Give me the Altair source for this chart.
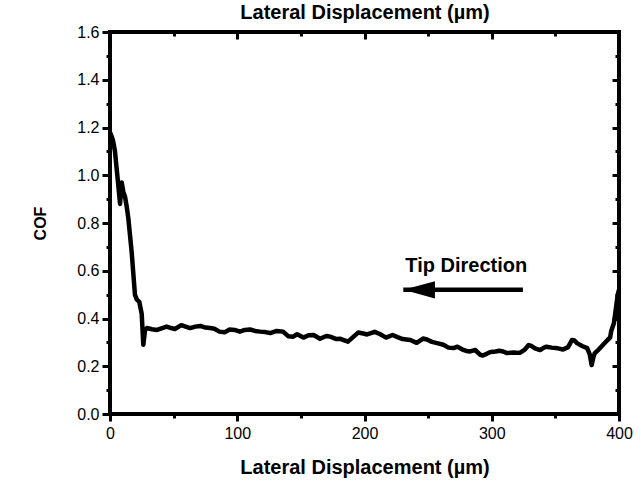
import altair as alt
import pandas as pd

# ---- data ----
disp = [0, 1.5, 2.6, 3.9, 5, 6.3, 7.9, 9.2, 10.5, 11.8, 13.1, 14.4, 17, 19.6, 21, 23,
        24.9, 26.2, 27.5, 29, 33, 37, 41, 44.5, 48, 51, 56, 60, 63, 67, 71, 75, 78.6,
        82, 86, 90, 94, 98, 102, 106, 110, 114, 118, 122, 126, 131, 136, 140, 144,
        147, 152, 156, 160, 165, 170, 173, 178, 181, 187, 191, 195, 200, 202, 208,
        212, 217, 222, 226, 230, 236, 241, 246, 249, 253, 257, 262, 266, 270, 273,
        277, 280, 283, 287, 291, 293, 296, 299, 303, 306, 309, 312, 317, 322, 326,
        329, 331, 334, 338, 341, 343, 347, 352, 356, 360, 363, 365, 367, 371, 375,
        377, 378.5, 380, 381, 384, 387.5, 391, 393, 394, 396, 397, 398, 399, 400]
cof = [1.18, 1.16, 1.14, 1.10, 1.04, 0.97, 0.88, 0.97, 0.93, 0.91, 0.87, 0.82, 0.68,
       0.50, 0.48, 0.47, 0.42, 0.29, 0.35, 0.36, 0.355, 0.352, 0.36, 0.366, 0.36,
       0.356, 0.372, 0.365, 0.36, 0.366, 0.369, 0.362, 0.36, 0.357, 0.345, 0.342,
       0.354, 0.352, 0.345, 0.352, 0.354, 0.348, 0.345, 0.343, 0.339, 0.348, 0.345,
       0.326, 0.324, 0.334, 0.32, 0.33, 0.331, 0.315, 0.327, 0.324, 0.314, 0.315,
       0.303, 0.322, 0.341, 0.336, 0.333, 0.344, 0.335, 0.32, 0.331, 0.322, 0.314,
       0.31, 0.298, 0.316, 0.312, 0.302, 0.297, 0.29, 0.278, 0.276, 0.282, 0.27,
       0.264, 0.262, 0.268, 0.248, 0.245, 0.252, 0.26, 0.262, 0.265, 0.262, 0.255,
       0.258, 0.256, 0.27, 0.289, 0.285, 0.275, 0.268, 0.278, 0.282, 0.278, 0.275,
       0.27, 0.28, 0.31, 0.308, 0.297, 0.285, 0.276, 0.25, 0.205, 0.24, 0.255, 0.27,
       0.29, 0.31, 0.32, 0.35, 0.38, 0.42, 0.46, 0.50, 0.52]

x_major = [0, 100, 200, 300, 400]
x_minor = [50, 150, 250, 350]
y_major = [0.0, 0.2, 0.4, 0.6, 0.8, 1.0, 1.2, 1.4, 1.6]
y_minor = [0.1, 0.3, 0.5, 0.7, 0.9, 1.1, 1.3, 1.5]

arrow_start = [324.5]
arrow_end = [230.5]
arrow_y = [0.52]
label_text = ["Tip Direction"]
label_x = [280]
label_y = [0.595]

x_title = "Lateral Displacement (µm)"
y_title = "COF"

FONT = "Liberation Sans"

df = pd.DataFrame({"x": disp, "y": cof})
arrow_df = pd.DataFrame({"xs": arrow_start, "xe": arrow_end, "y": arrow_y})
text_df = pd.DataFrame({"x": label_x, "y": label_y, "t": label_text})

xs = alt.Scale(domain=[0, 400], nice=False, zero=False)
ys = alt.Scale(domain=[0, 1.6], nice=False, zero=False)

common = dict(domain=False, grid=False, tickColor="black", tickWidth=3,
              labelFont=FONT, labelColor="black", titleFont=FONT,
              titleColor="black", titleFontWeight="bold")

ax_bottom = alt.Axis(orient="bottom", values=x_major, tickSize=7, labelFontSize=16,
                     labelFlush=False, labelOverlap=False, labelBaseline="alphabetic",
                     labelPadding=17, title=x_title, titleFontSize=20,
                     titleBaseline="alphabetic", titleY=59, **common)
ax_left = alt.Axis(orient="left", values=y_major, format=".1f", tickSize=8,
                   labelFontSize=16, labelPadding=3, labelOverlap=False,
                   title=y_title, titleFontSize=16, titleX=-70,
                   titleBaseline="middle", **common)
ax_bottom_minor = alt.Axis(orient="bottom", values=x_minor, tickSize=4, labels=False,
                           title=None, **common)
ax_left_minor = alt.Axis(orient="left", values=y_minor, tickSize=4, labels=False,
                         title=None, **common)
ax_top = alt.Axis(orient="top", values=x_major, tickSize=7, offset=-7, labels=False,
                  title=x_title, titleFontSize=20, titleBaseline="alphabetic",
                  titleY=-21, **common)
ax_right = alt.Axis(orient="right", values=y_major, tickSize=7, offset=-7,
                    labels=False, title=None, **common)
ax_top_minor = alt.Axis(orient="top", values=x_minor, tickSize=4, offset=-4,
                        labels=False, title=None, **common)
ax_right_minor = alt.Axis(orient="right", values=y_minor, tickSize=4, offset=-4,
                          labels=False, title=None, **common)

line = alt.Chart(df).mark_line(color="black", strokeWidth=4.5, strokeJoin="round").encode(
    x=alt.X("x:Q", scale=xs, axis=ax_bottom),
    y=alt.Y("y:Q", scale=ys, axis=ax_left),
)

shaft = alt.Chart(arrow_df).mark_rule(color="black", strokeWidth=4.5).encode(
    x=alt.X("xs:Q", scale=xs, axis=ax_bottom_minor),
    x2="xe:Q",
    y=alt.Y("y:Q", scale=ys, axis=ax_left_minor),
)

head = alt.Chart(arrow_df).mark_point(
    shape="M 0 0 L 2 -0.55 L 2 0.55 Z", filled=True, color="black", opacity=1,
    size=1000,
).encode(
    x=alt.X("xe:Q", scale=xs, axis=ax_top),
    y=alt.Y("y:Q", scale=ys, axis=ax_right),
)

txt = alt.Chart(text_df).mark_text(
    font=FONT, fontSize=20, fontWeight="bold", color="black", align="center",
    baseline="alphabetic",
).encode(
    x=alt.X("x:Q", scale=xs, axis=ax_top_minor),
    y=alt.Y("y:Q", scale=ys, axis=ax_right_minor),
    text="t:N",
)

chart = alt.layer(line, shaft, head, txt).resolve_scale(
    x="shared", y="shared"
).resolve_axis(
    x="independent", y="independent"
).properties(
    width=509, height=382,
    autosize=alt.AutoSizeParams(type="none"),
    padding={"left": 110, "top": 32, "right": 25, "bottom": 69},
    background="white",
).configure_view(stroke="black", strokeWidth=4)

chart.save("out.html", embed_options={"renderer": "svg", "actions": False})
